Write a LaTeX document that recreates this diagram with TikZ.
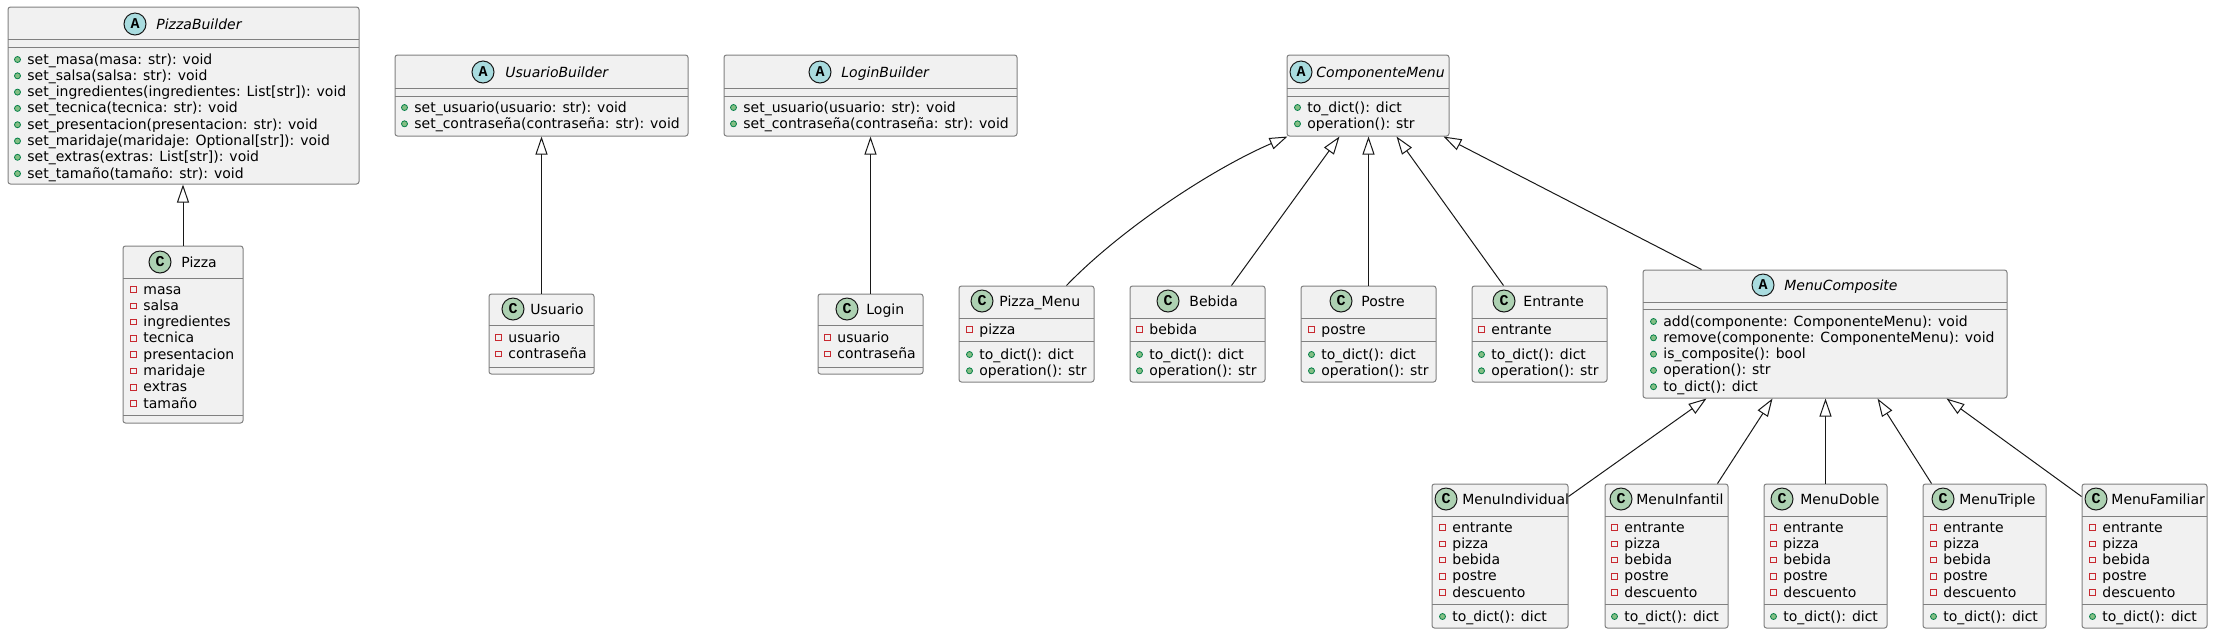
\documentclass[tikz,border=0pt]{standalone}
\usepackage{fontspec}
\setmainfont{DejaVu Sans}
\newfontfamily\letterfont{Liberation Mono}
\usetikzlibrary{arrows.meta,fit,calc}
\definecolor{boxfill}{HTML}{F1F1F1}
\definecolor{boxline}{HTML}{808080}
\definecolor{absc}{HTML}{A9DCDF}
\definecolor{conc}{HTML}{ADD1B2}
\definecolor{privc}{HTML}{C82930}
\definecolor{pubf}{HTML}{84BE84}
\definecolor{pubd}{HTML}{038048}
\definecolor{edgec}{HTML}{181818}
\tikzset{
 umlbox/.style={draw=boxline, fill=boxfill, rounded corners=1.25pt, line width=0.5pt, inner sep=0pt, rectangle},
 sepline/.style={draw=boxline, line width=0.5pt},
 txt/.style={inner sep=0pt, anchor=base west, font=\fontsize{7}{8}\selectfont, text=black},
 ttl/.style={txt, font=\fontsize{7}{8}\selectfont\itshape},
 badge/.style={circle, draw=edgec, line width=0.5pt, minimum size=11pt, inner sep=0pt, font=\letterfont\bfseries\fontsize{7.5}{8}\selectfont},
 absbadge/.style={badge, fill=absc},
 conbadge/.style={badge, fill=conc},
 pubicon/.style={draw=pubd, fill=pubf, line width=0.4pt},
 privicon/.style={draw=privc, line width=0.5pt},
 inh/.style={draw=edgec, line width=0.5pt, -{Triangle[length=9pt,width=6pt,fill=white]}},
}
\newcount\tn
\newcommand\pubm[3]{\global\advance\tn by 1 \draw[pubicon] (#1-9.5,#2+0.5) circle[radius=1.5pt]; \node[txt] (t\the\tn) at (#1,#2+5) {#3};}
\newcommand\privm[3]{\global\advance\tn by 1 \draw[privicon] (#1-12.25,#2-2.25) rectangle (#1-6.75,#2+3.25); \node[txt] (t\the\tn) at (#1,#2+5) {#3};}
\newcommand\absh[5]{\node[absbadge] (#1-b) at (#2,#3) {A}; \node[ttl] (#1-t) at (#4,#3+5) {#5};}
\newcommand\conh[5]{\node[conbadge] (#1-b) at (#2,#3) {C}; \node[txt] (#1-t) at (#4,#3+5) {#5};}
\newcommand\sepl[3]{\draw[sepline] (#1,#3) -- (#2,#3);}
\newcommand\cbox[5]{\node[umlbox, fit={(#2,#3) (#4,#5)}] (#1) {};}
\begin{document}
\begin{tikzpicture}[x=0.5pt,y=-0.5pt]
\useasboundingbox (0,0) rectangle (2213,634);
% PizzaBuilder
\cbox{pb}{8}{7}{359}{184}
\absh{pb}{135}{24}{156}{PizzaBuilder}
\sepl{8}{359}{39}\sepl{8}{359}{47}
\pubm{27}{59}{set\_masa(masa: str): void}
\pubm{27}{75.3}{set\_salsa(salsa: str): void}
\pubm{27}{91.6}{set\_ingredientes(ingredientes: List[str]): void}
\pubm{27}{107.9}{set\_tecnica(tecnica: str): void}
\pubm{27}{124.2}{set\_presentacion(presentacion: str): void}
\pubm{27}{140.5}{set\_maridaje(maridaje: Optional[str]): void}
\pubm{27}{156.8}{set\_extras(extras: List[str]): void}
\pubm{27}{173.1}{set\_tamaño(tamaño: str): void}
% Pizza
\cbox{pz}{123}{246}{243}{423}
\conh{pz}{160}{262}{181}{Pizza}
\sepl{123}{243}{278}
\privm{143}{289}{masa}
\privm{143}{305.3}{salsa}
\privm{143}{321.6}{ingredientes}
\privm{143}{337.9}{tecnica}
\privm{143}{354.2}{presentacion}
\privm{143}{370.5}{maridaje}
\privm{143}{386.8}{extras}
\privm{143}{403.1}{tamaño}
\sepl{123}{243}{415}
% UsuarioBuilder
\cbox{ub}{395}{55}{688}{136}
\absh{ub}{483}{72}{505}{UsuarioBuilder}
\sepl{395}{688}{88}\sepl{395}{688}{96}
\pubm{414}{107}{set\_usuario(usuario: str): void}
\pubm{414}{123.3}{set\_contraseña(contraseña: str): void}
% Usuario
\cbox{us}{489}{294}{594}{374}
\conh{us}{513}{309}{530}{Usuario}
\sepl{489}{594}{325}
\privm{508}{337}{usuario}
\privm{508}{353.3}{contraseña}
\sepl{489}{594}{367}
% LoginBuilder
\cbox{lb}{724}{55}{1017}{136}
\absh{lb}{820}{72}{841}{LoginBuilder}
\sepl{724}{1017}{88}\sepl{724}{1017}{96}
\pubm{743}{107}{set\_usuario(usuario: str): void}
\pubm{743}{123.3}{set\_contraseña(contraseña: str): void}
% Login
\cbox{lg}{818}{294}{923}{374}
\conh{lg}{847}{309}{866}{Login}
\sepl{818}{923}{325}
\privm{837}{337}{usuario}
\privm{837}{353.3}{contraseña}
\sepl{818}{923}{367}
% ComponenteMenu
\cbox{cm}{1287}{55}{1449}{136}
\absh{cm}{1301}{72}{1316}{ComponenteMenu}
\sepl{1287}{1449}{88}\sepl{1287}{1449}{96}
\pubm{1307}{107}{to\_dict(): dict}
\pubm{1307}{123.3}{operation(): str}
% Pizza_Menu
\cbox{pm}{959}{286}{1094}{382}
\conh{pm}{982}{301}{999}{Pizza\_Menu}
\sepl{959}{1094}{318}
\privm{979}{329}{pizza}
\sepl{959}{1094}{341}
\pubm{979}{354}{to\_dict(): dict}
\pubm{979}{370.3}{operation(): str}
% Bebida
\cbox{bb}{1130}{286}{1265}{382}
\conh{bb}{1168}{301}{1189}{Bebida}
\sepl{1130}{1265}{318}
\privm{1149}{329}{bebida}
\sepl{1130}{1265}{341}
\pubm{1149}{354}{to\_dict(): dict}
\pubm{1149}{370.3}{operation(): str}
% Postre
\cbox{po}{1301}{286}{1436}{382}
\conh{po}{1341}{301}{1361}{Postre}
\sepl{1301}{1436}{318}
\privm{1321}{329}{postre}
\sepl{1301}{1436}{341}
\pubm{1321}{354}{to\_dict(): dict}
\pubm{1321}{370.3}{operation(): str}
% Entrante
\cbox{en}{1472}{286}{1607}{382}
\conh{en}{1504}{301}{1523}{Entrante}
\sepl{1472}{1607}{318}
\privm{1491}{329}{entrante}
\sepl{1472}{1607}{341}
\pubm{1491}{354}{to\_dict(): dict}
\pubm{1491}{370.3}{operation(): str}
% MenuComposite
\cbox{mc}{1643}{270}{2007}{398}
\absh{mc}{1763}{285}{1784}{MenuComposite}
\sepl{1643}{2007}{302}\sepl{1643}{2007}{309}
\pubm{1663}{321}{add(componente: ComponenteMenu): void}
\pubm{1663}{337.3}{remove(componente: ComponenteMenu): void}
\pubm{1663}{353.6}{is\_composite(): bool}
\pubm{1663}{369.9}{operation(): str}
\pubm{1663}{386.2}{to\_dict(): dict}
% bottom row
\cbox{mi}{1432}{484}{1568}{628}
\conh{mi}{1446}{499}{1462}{MenuIndividual}
\cbox{mf}{1605}{484}{1728}{628}
\conh{mf}{1621}{499}{1636}{MenuInfantil}
\cbox{md}{1764}{484}{1887}{628}
\conh{md}{1782}{499}{1800}{MenuDoble}
\cbox{mt}{1923}{484}{2046}{628}
\conh{mt}{1943}{499}{1959}{MenuTriple}
\cbox{ma}{2082}{484}{2207}{628}
\conh{ma}{2096}{499}{2111}{MenuFamiliar}
\foreach \xa/\xb/\xt in {1432/1568/1452, 1605/1728/1624, 1764/1887/1783, 1923/2046/1943, 2082/2207/2102}{
 \sepl{\xa}{\xb}{516}
 \privm{\xt}{527}{entrante}
 \privm{\xt}{543.3}{pizza}
 \privm{\xt}{559.6}{bebida}
 \privm{\xt}{575.9}{postre}
 \privm{\xt}{592.2}{descuento}
 \sepl{\xa}{\xb}{604}
 \pubm{\xt}{616}{to\_dict(): dict}
}
% inheritance
\draw[inh] (pz.north) -- (pz.north |- pb.south);
\draw[inh] (us.north) -- (us.north |- ub.south);
\draw[inh] (lg.north) -- (lg.north |- lb.south);
\draw[inh] ($(pm.north west)+(108,0)$) .. controls (1120,230) and (1210,170) .. ($(cm.south west)+(1,0)$);
\draw[inh] ($(bb.north west)+(102,0)$) -- ($(cm.south west)+(53,0)$);
\draw[inh] (po.north) -- (po.north |- cm.south);
\draw[inh] ($(en.north west)+(32,0)$) -- ($(cm.south west)+(110,0)$);
\draw[inh] ($(mc.north west)+(59,0)$) -- ($(cm.south east)+(-6,0)$);
\draw[inh] ($(mi.north east)+(0,13)$) -- ($(mc.south west)+(64,0)$);
\draw[inh] ($(mf.north west)+(113,0)$) -- ($(mc.south west)+(130,0)$);
\draw[inh] (md.north) -- (md.north |- mc.south);
\draw[inh] ($(mt.north west)+(9,0)$) -- ($(mc.south west)+(235,0)$);
\draw[inh] ($(ma.north west)+(0,13)$) -- ($(mc.south west)+(304,0)$);
\end{tikzpicture}
\end{document}
